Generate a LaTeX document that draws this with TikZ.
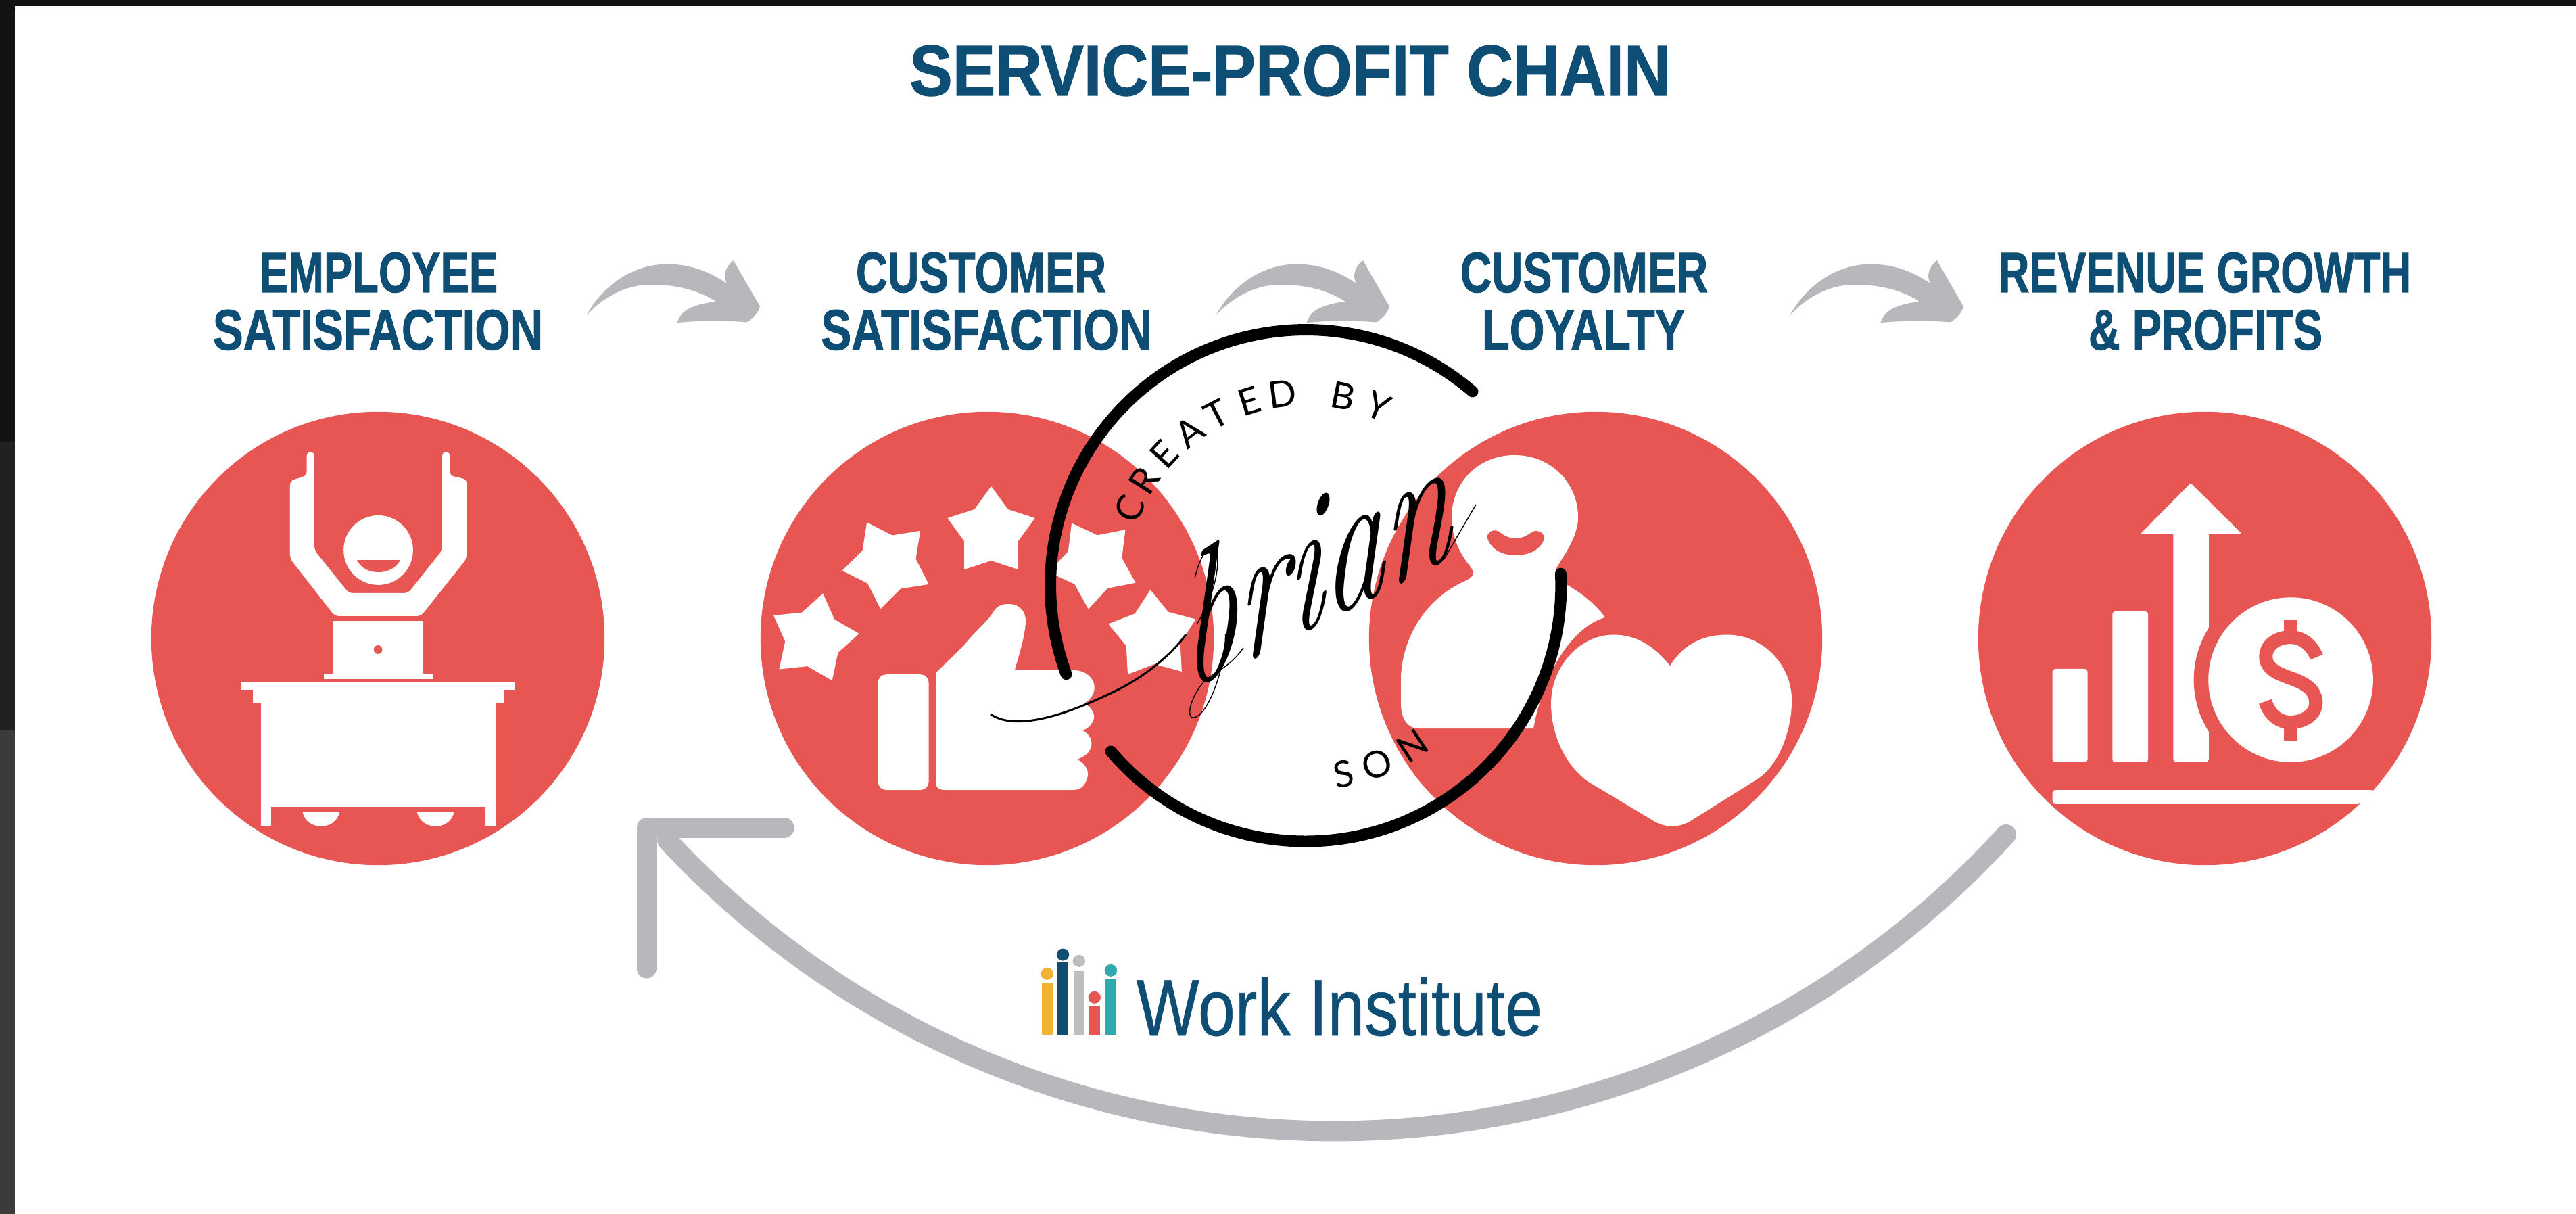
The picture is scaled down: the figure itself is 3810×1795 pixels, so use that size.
\documentclass[tikz,border=0pt]{standalone}
\usepackage{fontspec}
\usepackage{graphicx}
\usetikzlibrary{shapes.geometric}
\newfontfamily\hdfont{Liberation Sans}[BoldFeatures={FakeBold=1.2}]
\newfontfamily\wifont{Liberation Sans}[FakeBold=0.5]
\newfontfamily\stampfont{Lato}
\definecolor{navy}{HTML}{0E4E75}
\definecolor{coral}{HTML}{E85654}
\definecolor{arrowgrey}{HTML}{B8B8BC}
\definecolor{logoyellow}{HTML}{F2B233}
\definecolor{logogrey}{HTML}{BDBDBD}
\definecolor{logoteal}{HTML}{2FA9AB}
\tikzset{
  disc/.style={circle,fill=coral,minimum size=6.70cm,inner sep=0pt},
  headline/.style={anchor=base,inner sep=0pt,text=navy},
  starnode/.style={star,star points=5,star point ratio=1.62,fill=white,minimum size=1.36cm,inner sep=0pt},
  stampletter/.style={inner sep=0pt,text=black,font=\stampfont\fontsize{15.5}{18}\selectfont},
  ring/.style={line width=0.17cm,line cap=round,black},
  dollar/.style={line width=0.2cm,coral},
  hair/.style={black,line width=0.014cm},
  zoomA/.style={shift={(197,580)},x=0.0045045cm,y=-0.0045914cm},
  zoomB/.style={shift={(1100,500)},x=0.010846cm,y=-0.005102cm},
  zoomC/.style={shift={(2900,580)},x=0.0045914cm,y=-0.0045914cm},
  zoomD/.style={shift={(1450,1360)},x=0.0057405cm,y=-0.003333cm},
  zoomE/.style={x=0.0095694cm,y=-0.003333cm},
  zoomF/.style={shift={(1500,490)},x=0.005294cm,y=-0.004975cm},
}
\begin{document}
\begin{tikzpicture}[x=0.01cm,y=-0.01cm]
\useasboundingbox (0,0) rectangle (3810,1795);
\fill[white] (0,0) rectangle (3810,1795);
\fill[black!93] (0,0) rectangle (22,653);
\fill[black!87] (0,653) rectangle (22,1080);
\fill[black!77] (0,1080) rectangle (22,1795);
\fill[black!93] (0,0) rectangle (3810,9);

% titles
\node[headline] (title) at (1908,141) {\resizebox{11.25cm}{0.74cm}{\hdfont\bfseries SERVICE-PROFIT CHAIN}};
\node[headline] (a1) at (560,432) {\resizebox{3.52cm}{0.59cm}{\hdfont\bfseries EMPLOYEE}};
\node[headline] (a2) at (559,517) {\resizebox{4.88cm}{0.59cm}{\hdfont\bfseries SATISFACTION}};
\node[headline] (b1) at (1451,432) {\resizebox{3.70cm}{0.59cm}{\hdfont\bfseries CUSTOMER}};
\node[headline] (b2) at (1459,517) {\resizebox{4.89cm}{0.59cm}{\hdfont\bfseries SATISFACTION}};
\node[headline] (c1l) at (2343,432) {\resizebox{3.66cm}{0.59cm}{\hdfont\bfseries CUSTOMER}};
\node[headline] (c2l) at (2342,517) {\resizebox{3.00cm}{0.59cm}{\hdfont\bfseries LOYALTY}};
\node[headline] (d1) at (3261,432) {\resizebox{6.10cm}{0.59cm}{\hdfont\bfseries REVENUE GROWTH}};
\node[headline] (d2) at (3262,517) {\resizebox{3.46cm}{0.59cm}{\hdfont\bfseries \& PROFITS}};

% small curved arrows
\foreach \dx in {0,931,1780} {
  \begin{scope}[shift={(250+\dx,340)},zoomE]
  \fill[arrowgrey] (645,380) .. controls (665,270) and (710,152) .. (770,152)
    .. controls (810,152) and (840,195) .. (862,238)
    .. controls (855,200) and (860,165) .. (872,135) -- (913,340)
    .. controls (910,370) and (903,390) .. (893,410)
    .. controls (860,402) and (820,402) .. (785,412)
    .. controls (790,370) and (800,335) .. (845,318)
    .. controls (820,270) and (785,243) .. (745,243)
    .. controls (705,243) and (670,300) .. (645,380) -- cycle;
  \end{scope}
}

% discs
\node[disc] (c1) at (559,944) {};
\node[disc] (c2) at (1460,944) {};
\node[disc] (c3) at (2360,944) {};
\node[disc] (c4) at (3261,944) {};

% icon 1: person at desk
\begin{scope}[zoomA]
\fill[white,rounded corners=0.06cm] (515,285) -- (515,535) -- (662,720) -- (945,720) -- (1095,535) -- (1095,280) -- (1040,268) -- (1040,192) -- (1015,192) -- (1015,508) -- (903,646) -- (708,646) -- (595,508) -- (595,192) -- (570,192) -- (570,268) -- cycle;
\fill[white] (805,508) ellipse[x radius=114,y radius=112];
\fill[coral] (735,540) .. controls (760,592) and (850,592) .. (877,540) -- cycle;
\fill[white] (656,735) rectangle (952,905);
\fill[white] (626,905) rectangle (985,922);
\fill[coral] (804,828) ellipse[x radius=14,y radius=14];
\fill[white] (356,932) rectangle (1252,957);
\fill[white] (392,957) rectangle (1218,1000);
\fill[white] (420,1000) rectangle (1190,1335);
\fill[white] (420,1335) rectangle (453,1395);
\fill[white] (1157,1335) rectangle (1190,1395);
\fill[white] (556,1350) .. controls (570,1412) and (665,1412) .. (678,1350) -- cycle;
\fill[white] (932,1350) .. controls (946,1412) and (1041,1412) .. (1054,1350) -- cycle;
\end{scope}

% icon 2: stars and thumb
\node[starnode] (s1) at (1203,944) [rotate=-12] {};
\node[starnode] (s2) at (1313,833) [rotate=27] {};
\node[starnode] (s3) at (1466,787) {};
\node[starnode] (s4) at (1618,833) [rotate=29] {};
\node[starnode] (s5) at (1705,940) [rotate=3] {};
\begin{scope}[zoomB]
\fill[white,rounded corners=0.12cm] (183,975) rectangle (252,1310);
\end{scope}
\fill[white] (1590,991) .. controls (1609,992) and (1622,1007) .. (1618,1022)
  .. controls (1615,1032) and (1609,1037) .. (1603,1040)
  .. controls (1614,1045) and (1619,1055) .. (1618,1062)
  .. controls (1615,1072) and (1609,1077) .. (1601,1080)
  .. controls (1611,1085) and (1616,1094) .. (1614,1104)
  .. controls (1611,1114) and (1603,1119) .. (1593,1123)
  .. controls (1603,1127) and (1610,1137) .. (1609,1147)
  .. controls (1606,1159) and (1601,1168) .. (1587,1168)
  -- (1398,1168) .. controls (1390,1168) and (1384,1165) .. (1384,1158)
  -- (1384,995) -- (1425,955)
  .. controls (1445,930) and (1460,920) .. (1469,905)
  .. controls (1475,895) and (1483,893) .. (1492,893)
  .. controls (1508,893) and (1518,905) .. (1517,920)
  .. controls (1515,945) and (1508,965) .. (1501,990) -- cycle;
\begin{scope}[zoomB]
% heart
\fill[white] (1262,950) .. controls (1240,890) and (1215,860) .. (1185,860) .. controls (1140,860) and (1100,950) .. (1100,1060) .. controls (1100,1150) and (1120,1240) .. (1150,1285) -- (1240,1400) .. controls (1255,1420) and (1275,1420) .. (1290,1400) -- (1380,1280) .. controls (1410,1240) and (1428,1140) .. (1428,1050) .. controls (1428,950) and (1390,860) .. (1340,860) .. controls (1305,860) and (1280,890) .. (1262,950) -- cycle;
\end{scope}

% icon 3: person
\fill[white] (2240,673) .. controls (2295,673) and (2334,715) .. (2334,765) .. controls (2334,795) and (2310,825) .. (2302,840) .. controls (2298,852) and (2305,858) .. (2318,865) .. controls (2345,880) and (2365,900) .. (2374,913) .. controls (2330,925) and (2285,985) .. (2268,1077) -- (2098,1077) .. controls (2080,1077) and (2072,1060) .. (2072,1040) -- (2072,1000) .. controls (2075,940) and (2110,885) .. (2165,860) .. controls (2180,853) and (2182,848) .. (2175,838) .. controls (2160,820) and (2147,795) .. (2147,765) .. controls (2147,715) and (2185,673) .. (2240,673) -- cycle;
\begin{scope}[zoomF]
\fill[coral] (1320,610) .. controls (1325,590) and (1345,585) .. (1360,600) .. controls (1385,620) and (1415,620) .. (1440,600) .. controls (1455,585) and (1480,595) .. (1480,615) .. controls (1470,650) and (1435,665) .. (1400,665) .. controls (1365,665) and (1330,650) .. (1320,610) -- cycle;
\end{scope}

% icon 4: chart and coin
\begin{scope}[zoomC]
\fill[white,rounded corners=0.04cm] (295,890) rectangle (408,1190);
\fill[white,rounded corners=0.04cm] (488,705) rectangle (603,1190);
\fill[white,rounded corners=0.04cm] (684,440) rectangle (798,1190);
\fill[white,rounded corners=0.02cm] (740,292) -- (905,456) -- (578,456) -- cycle;
\fill[coral] (1062,925) circle[radius=312];
\fill[white] (1062,925) circle[radius=265];
\fill[white,rounded corners=0.04cm] (295,1280) -- (1330,1280) -- (1285,1325) -- (295,1325) -- cycle;
\draw[dollar,line cap=butt] (1145,852) .. controls (1130,810) and (1095,788) .. (1062,788) .. controls (1015,788) and (982,815) .. (982,850) .. controls (982,890) and (1020,905) .. (1062,920) .. controls (1105,935) and (1143,955) .. (1143,1000) .. controls (1143,1035) and (1105,1062) .. (1062,1062) .. controls (1025,1062) and (995,1040) .. (980,995);
\draw[dollar] (1062,732) -- (1062,790);
\draw[dollar] (1062,1060) -- (1062,1120);
\end{scope}

% big return arrow
\coordinate (rs) at (2967,1234);
\draw[arrowgrey,line width=0.30cm,line cap=round] (rs) arc[start angle=42.4,end angle=137.1,radius=1346];
\coordinate (rh1) at (1160,1224);
\coordinate (rh2) at (956,1224);
\coordinate (rh3) at (956,1432);
\draw[arrowgrey,line width=0.29cm,line cap=round,line join=round] (rh1) -- (rh2) -- (rh3);

% logo
\begin{scope}[zoomD]
\foreach \col/\xa/\xb/\top/\hd in {logoyellow/158/186/280/240,navy/198/227/190/155,logogrey/240/268/225/183,coral/280/308/385/345,logoteal/322/350/262/225} {
  \fill[\col] (\xa,\top) rectangle (\xb,512);
  \fill[\col] ({(\xa+\xb)/2},\hd) ellipse[x radius=16,y radius=27];
}
\end{scope}
\node[headline,anchor=base west] (wi) at (1680,1531) {\resizebox{6.00cm}{0.86cm}{\wifont Work Institute}};

% stamp
\coordinate (st) at (1932,865);
\draw[ring] (2178,579) arc[start angle=-49.3,end angle=-200.3,radius=378];
\draw[ring] (1643,1111) arc[start angle=139.6,end angle=-2.7,radius=378];
\foreach \l/\a [count=\i] in {C/-156.6,R/-147.2,E/-137.4,A/-127.3,T/-117.6,E/-107.3,D/-97.1,B/-78.9,Y/-68} {
  \node[stampletter,rotate={-(\a)-90}] (cb\i) at ([shift={(\a:285)}]st) {\l};
}
\foreach \l/\a [count=\i] in {S/78.8,O/68.4,N/56.5} {
  \node[stampletter,rotate={90-(\a)}] (so\i) at ([shift={(\a:285)}]st) {\l};
}
\begin{scope}[shift={(1750,1026)},yslant=0.513,transform shape]
\node[anchor=base west,inner sep=0pt] (brian) at (0,0) {\resizebox{3.95cm}{2.0cm}{\itshape brian}};
\end{scope}
\coordinate (sw0) at (1465,1056);
\coordinate (sw1) at (1754,938);
\draw[black,line width=0.03cm] (sw0) .. controls (1500,1080) and (1570,1062) .. (1659,1017) .. controls (1700,995) and (1735,965) .. (sw1);
\coordinate (tl0) at (2135,828);
\coordinate (tl1) at (2183,746);
\draw[hair] (tl0) -- (tl1);
\begin{scope}[zoomF]
\draw[hair] (590,900) .. controls (590,1000) and (540,1145) .. (500,1148) .. controls (480,1148) and (490,1090) .. (530,1040) .. controls (560,1010) and (600,1000) .. (640,940);
\draw[hair] (510,870) .. controls (560,780) and (575,700) .. (565,650) .. controls (550,625) and (520,660) .. (505,730);
\end{scope}
\end{tikzpicture}
\end{document}
